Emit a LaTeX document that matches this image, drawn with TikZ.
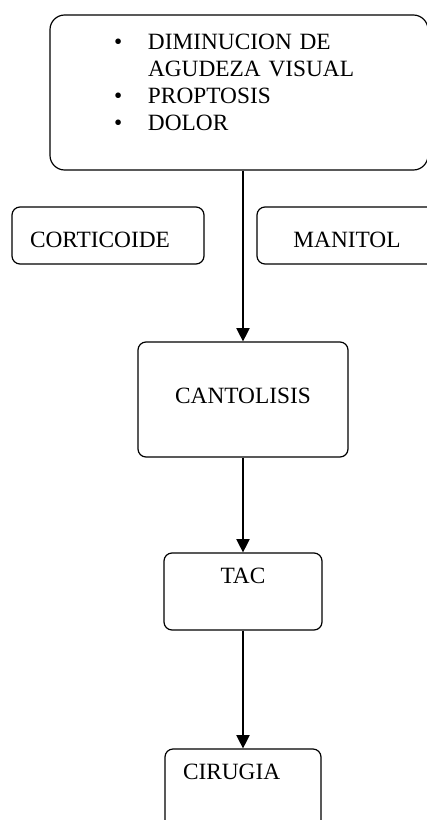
\documentclass[tikz,border=0pt]{standalone}
\usepackage{fontspec}
\setmainfont{Liberation Serif}
\usepackage{tikz}
\usetikzlibrary{arrows.meta}
\usetikzlibrary{positioning}

\begin{document}
\begin{tikzpicture}[
  x=0.75pt,
  y=-0.75pt,
  every node/.style={font=\fontsize{17.5}{20.25}\selectfont},
  caja/.style={draw, rounded corners=6pt, line width=0.9pt, inner sep=0pt},
  flecha/.style={-{Triangle[width=10pt,length=10pt]}, line width=0.9pt}
]

\useasboundingbox (0,0) rectangle (427,820);

\node[caja, rounded corners=11pt, minimum width=283.5pt, minimum height=116.25pt,
  text width=283.5pt, text height=26.25pt, text depth=90pt] (sintomas) at (239,92.5)
  {\begin{tabular}[t]{@{\hspace{48pt}}p{25.5pt}@{}l@{}}
   \textbullet & DIMINUCION DE\\
               & AGUDEZA VISUAL\\
   \textbullet & PROPTOSIS\\
   \textbullet & DOLOR
   \end{tabular}};

\node[caja, minimum width=144pt, minimum height=42.75pt, text width=117pt,
  text height=30.4pt, text depth=12.35pt] (cort) at (108,235.5) {CORTICOIDE};
\node[caja, minimum width=135pt, minimum height=42.75pt,
  text height=30.4pt, text depth=12.35pt] (manitol) at (347,235.5) {MANITOL};

\node[caja, minimum width=157.5pt, minimum height=86.25pt,
  text height=45.75pt, text depth=40.5pt] (canto) at (243,399.5) {CANTOLISIS};
\node[caja, minimum width=118.5pt, minimum height=57.75pt,
  text height=22.9pt, text depth=34.85pt] (tac) at (243,591.5) {TAC};
\node[caja, minimum width=117pt, minimum height=62.25pt, text width=90pt,
  text height=22.9pt, text depth=39.35pt] (cirugia) at (243,790.5) {CIRUGIA};

\draw[flecha] (canto.north |- sintomas.south) -- (canto.north);
\draw[flecha] (canto) -- (tac);
\draw[flecha] (tac) -- (cirugia);

\end{tikzpicture}
\end{document}
